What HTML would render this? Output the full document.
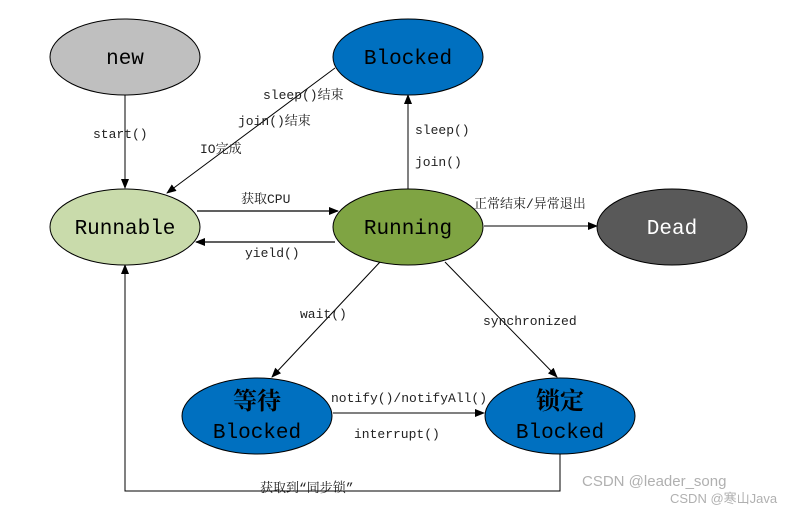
<!DOCTYPE html>
<html><head><meta charset="utf-8">
<style>
html,body{margin:0;padding:0;background:#fff;}
svg{display:block;}
.n{font-family:"Liberation Mono","Noto Serif CJK SC",monospace;font-size:21px;text-anchor:middle;}
.c{font-family:"Noto Serif CJK SC",serif;font-size:24px;text-anchor:middle;font-weight:bold;}
.l{font-family:"Liberation Mono","Noto Serif CJK SC",monospace;font-size:13px;fill:#222;}
</style></head><body>
<svg width="812" height="513" viewBox="0 0 812 513" xmlns="http://www.w3.org/2000/svg">
<defs>
<marker id="a" markerWidth="10" markerHeight="8" refX="9" refY="4" orient="auto" markerUnits="userSpaceOnUse">
<path d="M0,0 L10,4 L0,8 z" fill="#000"/></marker>
</defs>
<g stroke="#000" stroke-width="1" fill="none">
<line x1="125" y1="95" x2="125" y2="188" marker-end="url(#a)"/>
<line x1="335" y1="68" x2="167" y2="193" marker-end="url(#a)"/>
<line x1="197" y1="211" x2="338" y2="211" marker-end="url(#a)" stroke-width="1.3"/>
<line x1="335" y1="242" x2="196" y2="242" marker-end="url(#a)" stroke-width="1.3"/>
<line x1="408" y1="189" x2="408" y2="95" marker-end="url(#a)"/>
<line x1="484" y1="226" x2="597" y2="226" marker-end="url(#a)"/>
<line x1="380" y1="262" x2="272" y2="377" marker-end="url(#a)"/>
<line x1="445" y1="262" x2="557" y2="377" marker-end="url(#a)"/>
<line x1="333" y1="413" x2="484" y2="413" marker-end="url(#a)"/>
<polyline points="560,453 560,491 125,491 125,265" marker-end="url(#a)"/>
</g>
<g stroke="#000" stroke-width="1">
<ellipse cx="125" cy="57" rx="75" ry="38" fill="#bfbfbf"/>
<ellipse cx="408" cy="57" rx="75" ry="38" fill="#0070c0"/>
<ellipse cx="125" cy="227" rx="75" ry="38" fill="#c9dbab"/>
<ellipse cx="408" cy="227" rx="75" ry="38" fill="#7fa443"/>
<ellipse cx="672" cy="227" rx="75" ry="38" fill="#595959"/>
<ellipse cx="257" cy="416" rx="75" ry="38" fill="#0070c0"/>
<ellipse cx="560" cy="416" rx="75" ry="38" fill="#0070c0"/>
</g>
<text class="n" x="125" y="64">new</text>
<text class="n" x="408" y="64">Blocked</text>
<text class="n" x="125" y="234">Runnable</text>
<text class="n" x="408" y="234">Running</text>
<text class="n" x="672" y="234" fill="#fff">Dead</text>
<text class="c" x="257" y="409">等待</text>
<text class="n" x="257" y="438">Blocked</text>
<text class="c" x="560" y="409">锁定</text>
<text class="n" x="560" y="438">Blocked</text>
<text class="l" x="93" y="138">start()</text>
<text class="l" x="263" y="99">sleep()结束</text>
<text class="l" x="238" y="125">join()结束</text>
<text class="l" x="200" y="153">IO完成</text>
<text class="l" x="415" y="134">sleep()</text>
<text class="l" x="415" y="166">join()</text>
<text class="l" x="241" y="203">获取CPU</text>
<text class="l" x="245" y="257">yield()</text>
<text class="l" x="474" y="208">正常结束/异常退出</text>
<text class="l" x="300" y="318">wait()</text>
<text class="l" x="483" y="325">synchronized</text>
<text class="l" x="331" y="402">notify()/notifyAll()</text>
<text class="l" x="354" y="438">interrupt()</text>
<text class="l" x="260" y="492">获取到“同步锁”</text>
<text x="582" y="486" font-family="Liberation Sans,sans-serif" font-size="15" fill="#b0b0b0">CSDN @leader_song</text>
<text x="670" y="503" font-family="Liberation Sans,'Noto Sans CJK SC',sans-serif" font-size="13" fill="#b0b0b0">CSDN @寒山Java</text>
</svg>
</body></html>
